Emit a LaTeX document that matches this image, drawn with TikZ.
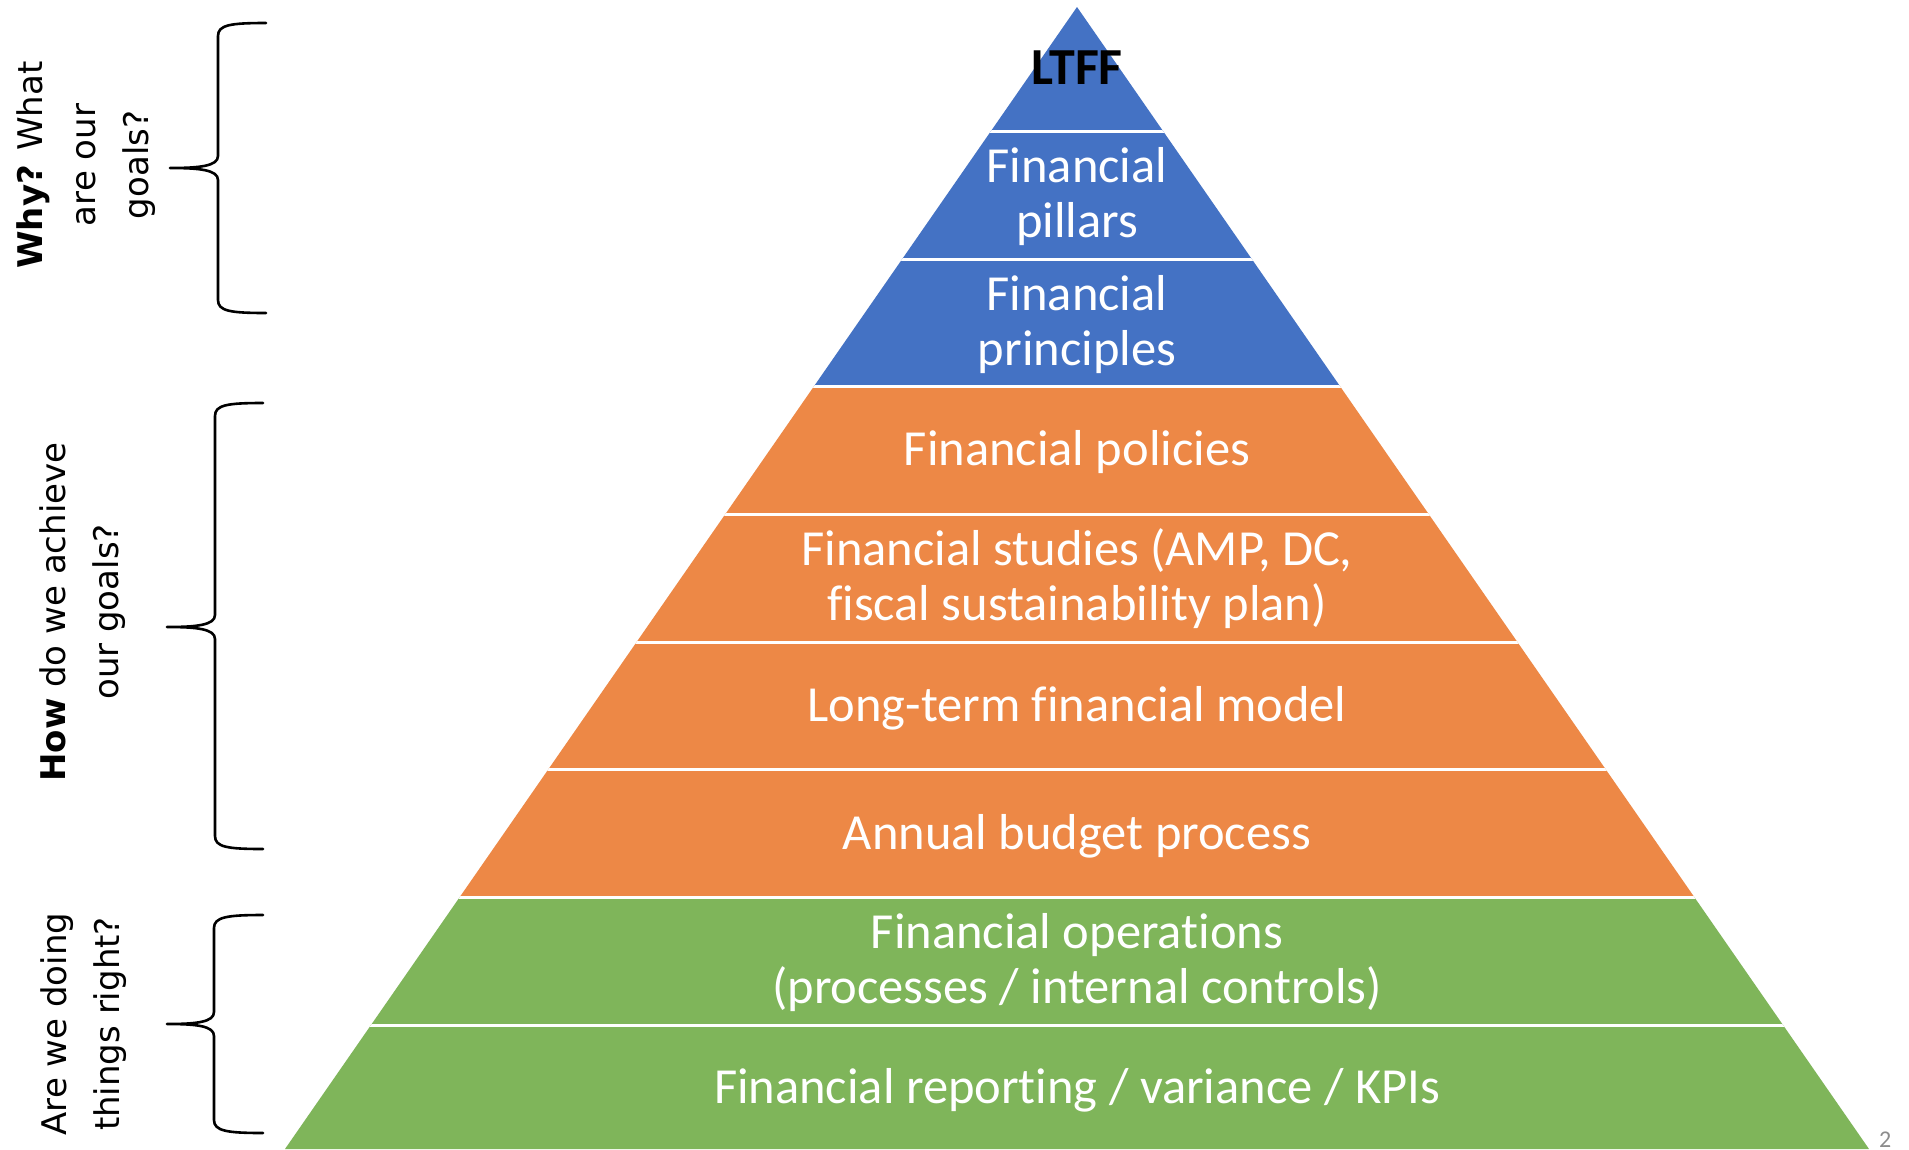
\documentclass[tikz,border=0pt]{standalone}
\usepackage{fontspec}
\setmainfont{Carlito}[Ligatures={NoCommon}]
\newfontfamily\sidefont{DejaVu Sans}
\definecolor{pblue}{HTML}{4472C4}
\definecolor{porange}{HTML}{ED8846}
\definecolor{pgreen}{HTML}{7FB55A}
\definecolor{pgray}{HTML}{8C8C8C}
\tikzset{
  bandtext/.style={text=white, align=center, inner sep=0pt, anchor=base, font=\fontsize{50.5}{55}\selectfont},
  sidelabel/.style={rotate=90, align=center, inner sep=0pt, font=\sidefont\fontsize{34}{53}\selectfont},
  bracepath/.style={draw=black, line width=2.6pt, line cap=round, line join=round},
  sepline/.style={draw=white, line width=3pt}
}
\begin{document}
\begin{tikzpicture}[x=1pt,y=-1pt]
\useasboundingbox (0,0) rectangle (1909,1149);
\fill[white] (0,0) rectangle (1909,1149);
% pyramid
\coordinate (apex) at (1077,7);
\coordinate (bl) at (285,1149);
\coordinate (br) at (1869,1149);
\begin{scope}
  \clip (apex) -- (bl) -- (br) -- cycle;
  \fill[pblue] (0,0) rectangle (1909,386);
  \fill[porange] (0,386) rectangle (1909,897);
  \fill[pgreen] (0,897) rectangle (1909,1160);
  \foreach \yy in {131,259,386,514,642,769,897,1025}{
    \draw[sepline] (0,\yy) -- (1909,\yy);
  }
\end{scope}
% band texts (anchor = baseline of last line)
\node[inner sep=0pt, anchor=base, font=\bfseries\fontsize{52}{56}\selectfont] (ltff) at (1077,84) {LTFF};
\node[bandtext] (pillars) at (1077,237) {Financial\\pillars};
\node[bandtext] (principles) at (1077,365) {Financial\\principles};
\node[bandtext] (policies) at (1077,465) {Financial policies};
\node[bandtext] (studies) at (1077,620) {Financial studies (AMP, DC,\\fiscal sustainability plan)};
\node[bandtext] (model) at (1077,721) {Long-term financial model};
\node[bandtext] (budget) at (1077,849) {Annual budget process};
\node[bandtext] (operations) at (1077,1003) {Financial operations\\(processes / internal controls)};
\node[bandtext] (reporting) at (1077,1103) {Financial reporting / variance / KPIs};
% braces
\draw[bracepath] (266,23) .. controls (230,23) and (218,25) .. (218,36) -- (218,156)
  .. controls (218,166) and (200,168) .. (170,168)
  .. controls (200,168) and (218,170) .. (218,180) -- (218,300)
  .. controls (218,311) and (230,313) .. (266,313);
\draw[bracepath] (263,403) .. controls (227,403) and (215,405) .. (215,416) -- (215,615)
  .. controls (215,625) and (197,627) .. (167,627)
  .. controls (197,627) and (215,629) .. (215,639) -- (215,836)
  .. controls (215,847) and (227,849) .. (263,849);
\draw[bracepath] (263,915) .. controls (227,915) and (214,917) .. (214,928) -- (214,1012)
  .. controls (214,1022) and (197,1024) .. (167,1024)
  .. controls (197,1024) and (214,1026) .. (214,1036) -- (214,1120)
  .. controls (214,1131) and (227,1133) .. (263,1133);
% side labels
\node[sidelabel] (why) at (86,165) {\textbf{Why?} What\\are our\\goals?};
\node[sidelabel] (how) at (83,612) {\textbf{How} do we achieve\\our goals?};
\node[sidelabel] (right) at (84,1024) {Are we doing\\things right?};
% page number
\node[inner sep=0pt, anchor=base west, text=pgray, font=\fontsize{24}{28}\selectfont] (pagenum) at (1879,1147) {2};
\end{tikzpicture}
\end{document}
